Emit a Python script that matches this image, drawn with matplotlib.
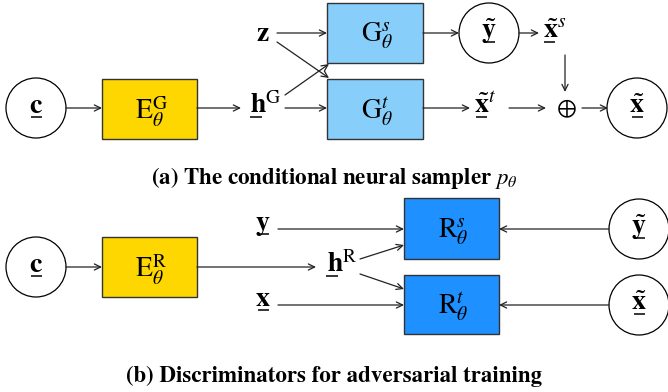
import matplotlib
matplotlib.use("Agg")
import matplotlib.pyplot as plt
from matplotlib.patches import Rectangle, Circle

plt.rcParams['mathtext.fontset'] = 'stix'
plt.rcParams['font.family'] = ['STIXGeneral', 'Liberation Serif', 'DejaVu Serif']

# node labels
box_labels_a = [r'$\mathrm{E}^{\mathrm{G}}_{\theta}$', r'$\mathrm{G}^{s}_{\theta}$', r'$\mathrm{G}^{t}_{\theta}$']
box_labels_b = [r'$\mathrm{E}^{\mathrm{R}}_{\theta}$', r'$\mathrm{R}^{s}_{\theta}$', r'$\mathrm{R}^{t}_{\theta}$']
captions = [r'(a) The conditional neural sampler $p_{\theta}$',
            '(b) Discriminators for adversarial training']

GOLD = '#FFD700'
LIGHT = '#87CEFA'
DARK = '#1E90FF'
EDGE = '#333333'

fig = plt.figure(figsize=(6.68, 3.92), dpi=100)
ax = fig.add_axes([0, 0, 1, 1])
ax.set_xlim(0, 668)
ax.set_ylim(392, 0)
ax.axis('off')


def box(x0, y0, x1, y1, color, label):
    ax.add_patch(Rectangle((x0, y0), x1 - x0, y1 - y0, facecolor=color,
                           edgecolor=EDGE, lw=1.0))
    ax.text((x0 + x1) / 2 + 2, (y0 + y1) / 2 + 3, label, ha='center', va='center', fontsize=20)


def circ(cx, cy, label, w=11):
    ax.add_patch(Circle((cx, cy), 30, facecolor='white', edgecolor='black', lw=0.9))
    sym(cx, cy, label, w)


def sym(cx, cy, label, w, dx=0, size=20):
    # bold symbol with underline, cx = centre of the base letter
    ax.text(cx + dx, cy + 5, label, ha='center', va='baseline', fontsize=size)
    ax.plot([cx - w / 2, cx + w / 2], [cy + 9, cy + 9], color='black', lw=1.1,
            solid_capstyle='butt')


def arrow(x0, y0, x1, y1, rev=False):
    ax.annotate('', xy=(x1, y1), xytext=(x0, y0),
                arrowprops=dict(arrowstyle='->,head_length=0.45,head_width=0.22',
                                lw=0.9, color='#222222', shrinkA=0, shrinkB=0))


# ---- (a) sampler ----
circ(36, 108, r'$\mathbf{c}$')
box(102, 79, 197, 139, GOLD, box_labels_a[0])
box(327, 3, 423, 63, LIGHT, box_labels_a[1])
box(327, 79, 423, 139, LIGHT, box_labels_a[2])
arrow(66, 108, 102, 108)
arrow(197, 108, 241, 108)
sym(256, 108, r'$\mathbf{h}^{\mathrm{G}}$', 12, dx=10)
ax.text(263, 34, r'$\mathbf{z}$', ha='center', va='center', fontsize=20)
arrow(277, 33, 327, 33)
arrow(277, 42, 329, 78)
arrow(285, 95, 329, 64)
arrow(285, 108, 327, 108)

arrow(423, 33, 459, 33)
circ(489, 33, r'$\tilde{\mathbf{y}}$')
arrow(519, 33, 539, 33)
sym(549, 33, r'$\tilde{\mathbf{x}}^{s}$', 11, dx=6)
arrow(565, 55, 565, 92)

arrow(423, 108, 470, 108)
sym(481, 108, r'$\tilde{\mathbf{x}}^{t}$', 11, dx=4)
arrow(509, 108, 546, 108)
ax.text(566, 109, r'$\oplus$', ha='center', va='center', fontsize=17)
arrow(582, 108, 608, 108)
circ(637, 108, r'$\tilde{\mathbf{x}}$')

ax.text(334, 178, captions[0], ha='center', va='center', fontsize=16.5, fontweight='bold')

# ---- (b) discriminators ----
circ(36, 267, r'$\mathbf{c}$')
box(102, 237, 197, 297, GOLD, box_labels_b[0])
box(404, 198, 499, 259, DARK, box_labels_b[1])
box(404, 275, 499, 334, DARK, box_labels_b[2])
arrow(66, 267, 102, 267)
arrow(197, 267, 316, 267)
sym(332, 267, r'$\mathbf{h}^{\mathrm{R}}$', 12, dx=10)

sym(263, 225, r'$\mathbf{y}$', 11)
arrow(278, 229, 404, 229)
sym(263, 301, r'$\mathbf{x}$', 11)
arrow(278, 305, 404, 305)
arrow(360, 259, 404, 245)
arrow(360, 274, 404, 289)

circ(639, 229, r'$\tilde{\mathbf{y}}$')
arrow(609, 229, 499, 229)
circ(639, 305, r'$\tilde{\mathbf{x}}$')
arrow(609, 305, 499, 305)

ax.text(334, 376, captions[1], ha='center', va='center', fontsize=16.5, fontweight='bold')

fig.savefig('out.png', dpi=100)
